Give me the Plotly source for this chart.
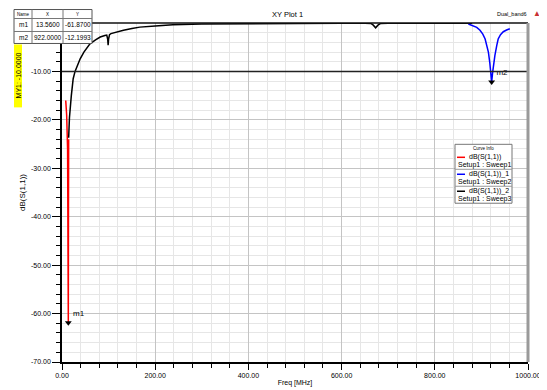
import plotly.graph_objects as go

# ---------------- data ----------------
red_f = [8, 10, 12, 13, 13.56, 13.9, 14.3]
red_db = [-16, -19, -26, -40, -61.87, -38, -24]

black_f = [14.3, 16, 20, 24, 28, 33, 39, 47, 60, 72, 82, 92, 96, 98, 99, 100, 102, 105, 115,
           132, 150, 167, 200, 238, 300, 400, 500, 600, 650, 663, 668, 673, 678, 684, 700, 800, 880]
black_db = [-23.7, -19.5, -15, -11.5, -10, -8.8, -7.4, -6, -4.3, -3.5, -2.9, -2.6, -2.5, -3.3, -4.6, -3.3, -2.4,
            -2.2, -1.9, -1.5, -1.15, -0.85, -0.6, -0.35, -0.2, -0.1, -0.07, -0.05, -0.05, -0.1, -0.45, -1.0,
            -0.45, -0.1, -0.05, -0.05, -0.05]

blue_f = [872, 880, 890, 897, 903, 908, 912, 915, 918, 920, 922, 924, 926, 929, 933, 936, 941, 947, 954, 961]
blue_db = [-0.2, -0.5, -0.9, -1.5, -2.3, -3.3, -4.6, -6, -8.2, -10.5, -12.2, -10.3, -8.2, -6.7, -4.6,
           -3.3, -2.4, -1.8, -1.45, -1.2]

marker_names = ["m1", "m2"]
marker_x = [13.56, 922.0]
marker_y = [-61.87, -12.1993]
marker_x_text = ["13.5600", "922.0000"]
marker_y_text = ["-61.8700", "-12.1993"]

ymarker_db = -10.0
ymarker_label = "MY1: -10.0000"

y_tick_vals = [-70, -60, -50, -40, -30, -20, -10]
x_tick_vals = [0, 200, 400, 600, 800, 1000]

legend_names = ["dB(S(1,1))", "dB(S(1,1))_1", "dB(S(1,1))_2"]
legend_setups = ["Setup1 : Sweep1", "Setup1 : Sweep2", "Setup1 : Sweep3"]
legend_colors = ["#ff0000", "#0000ff", "#000000"]

FONT = "Liberation Sans, Arial, sans-serif"

# the page body has an 8px margin: the figure is drawn 8px smaller and all
# reference-pixel positions are shifted by that offset
OFF = 8
PAGE_W, PAGE_H = 547, 390
W, H = PAGE_W - OFF, PAGE_H - OFF
# plot area in reference-picture pixels
L, R, T, B = 62, 528, 22.5, 362


def px(x):
    return (x - L) / (R - L)


def py(y):
    return (B - y) / (B - T)


def ann(x, y, text, size=7, xanchor="center", angle=0, color="black"):
    return dict(xref="paper", yref="paper", x=px(x), y=py(y), text=text, showarrow=False,
                xanchor=xanchor, yanchor="middle", textangle=angle,
                font=dict(family=FONT, size=size, color=color))


fig = go.Figure()
fig.add_trace(go.Scatter(x=red_f, y=red_db, mode="lines", line=dict(color=legend_colors[0], width=1.5),
                         name=legend_names[0], showlegend=False))
fig.add_trace(go.Scatter(x=black_f, y=black_db, mode="lines", line=dict(color=legend_colors[2], width=1.5),
                         name=legend_names[2], showlegend=False))
fig.add_trace(go.Scatter(x=blue_f, y=blue_db, mode="lines", line=dict(color=legend_colors[1], width=1.5),
                         name=legend_names[1], showlegend=False))
# markers
fig.add_trace(go.Scatter(x=marker_x, y=marker_y, mode="markers+text",
                         marker=dict(symbol="triangle-down", size=6, color="black"),
                         text=marker_names, textposition="top right",
                         textfont=dict(family=FONT, size=8, color="black"),
                         showlegend=False, cliponaxis=False))

shapes = []
annotations = []

# Y marker line
shapes.append(dict(type="line", xref="paper", yref="y", x0=0, x1=1, y0=ymarker_db, y1=ymarker_db,
                   line=dict(color="#222222", width=1.5)))
# top border (black) and right border (grey)
shapes.append(dict(type="line", xref="paper", yref="paper", x0=0, x1=1, y0=1, y1=1,
                   line=dict(color="#111111", width=1.5)))
shapes.append(dict(type="line", xref="paper", yref="paper", x0=1, x1=1, y0=0, y1=1,
                   line=dict(color="#9a9a9a", width=3)))

# yellow marker label box
shapes.append(dict(type="rect", xref="paper", yref="paper", x0=px(14), x1=px(22), y0=py(107), y1=py(44),
                   fillcolor="#ffff00", line=dict(width=0)))
annotations.append(ann(18.5, 75.5, ymarker_label, size=7, angle=-90))

# marker table
tbl_cols = [14, 32, 63, 92]
tbl_rows = [9, 18, 31, 43]
shapes.append(dict(type="rect", xref="paper", yref="paper", x0=px(tbl_cols[0]), x1=px(tbl_cols[-1]),
                   y0=py(tbl_rows[-1]), y1=py(tbl_rows[0]), fillcolor="white",
                   line=dict(color="#555555", width=1)))
for c in tbl_cols[1:-1]:
    shapes.append(dict(type="line", xref="paper", yref="paper", x0=px(c), x1=px(c),
                       y0=py(tbl_rows[-1]), y1=py(tbl_rows[0]), line=dict(color="#777777", width=1)))
for r in tbl_rows[1:-1]:
    shapes.append(dict(type="line", xref="paper", yref="paper", x0=px(tbl_cols[0]), x1=px(tbl_cols[-1]),
                       y0=py(r), y1=py(r), line=dict(color="#777777", width=1)))
headers = ["Name", "X", "Y"]
for i, h in enumerate(headers):
    annotations.append(ann((tbl_cols[i] + tbl_cols[i + 1]) / 2, (tbl_rows[0] + tbl_rows[1]) / 2, h, size=4.5))
for j in range(len(marker_names)):
    cells = [marker_names[j], marker_x_text[j], marker_y_text[j]]
    for i, cval in enumerate(cells):
        annotations.append(ann((tbl_cols[i] + tbl_cols[i + 1]) / 2, (tbl_rows[j + 1] + tbl_rows[j + 2]) / 2,
                               cval, size=6.5))

# legend box (Curve Info)
lg_x0, lg_x1, lg_y0, lg_y1 = 455, 512, 144, 203
shapes.append(dict(type="rect", xref="paper", yref="paper", x0=px(lg_x0), x1=px(lg_x1),
                   y0=py(lg_y1), y1=py(lg_y0), fillcolor="white", line=dict(color="#777777", width=1)))
annotations.append(ann((lg_x0 + lg_x1) / 2, 148.5, "Curve Info", size=4.5))
row_h = 17
for k in range(3):
    ytop = 152 + k * row_h
    if k > 0:
        shapes.append(dict(type="line", xref="paper", yref="paper", x0=px(lg_x0), x1=px(lg_x1),
                           y0=py(ytop), y1=py(ytop), line=dict(color="#999999", width=1)))
    shapes.append(dict(type="line", xref="paper", yref="paper", x0=px(457), x1=px(465),
                       y0=py(ytop + 5), y1=py(ytop + 5), line=dict(color=legend_colors[k], width=1.5)))
    annotations.append(ann(467, ytop + 5, legend_names[k], size=7, xanchor="left"))
    annotations.append(ann(455.5, ytop + 13, legend_setups[k], size=7, xanchor="left"))

# title & top-right text
annotations.append(ann(287, 13.5, "XY Plot 1", size=7.5))
annotations.append(ann(529, 13, "Dual_band6", size=5.5, xanchor="right"))
annotations.append(ann(537, 13, "▲", size=8, color="#c83232"))

fig.update_layout(
    width=W, height=H,
    margin=dict(l=L - OFF, r=PAGE_W - R, t=T - OFF, b=PAGE_H - B, autoexpand=False),
    plot_bgcolor="white", paper_bgcolor="white",
    font=dict(family=FONT, size=7, color="black"),
    shapes=shapes, annotations=annotations,
    showlegend=False,
)
axis_common = dict(
    showgrid=True, gridcolor="#c4c4c4", gridwidth=1, automargin=False,
    tickcolor="black", color="black",
    showline=True, linecolor="black", linewidth=1.5, zeroline=False,
    tickfont=dict(family=FONT, size=7, color="black"),
)
fig.update_xaxes(
    range=[0, 1000], tickvals=x_tick_vals, ticktext=[f"{v:.2f}" for v in x_tick_vals],
    ticks="outside", ticklen=6,
    minor=dict(dtick=40, showgrid=True, gridcolor="#e6e6e6", ticks="outside", ticklen=4, tickcolor="black"),
    title=dict(text="Freq [MHz]", font=dict(family=FONT, size=7, color="black"), standoff=2),
    **axis_common,
)
fig.update_yaxes(
    range=[-70, 0], tickvals=y_tick_vals, ticktext=[f"{v:.2f}" for v in y_tick_vals],
    ticks="outside", ticklen=8,
    minor=dict(dtick=2, showgrid=True, gridcolor="#e6e6e6", ticks="outside", ticklen=4, tickcolor="black"),
    title=dict(text="dB(S(1,1))", font=dict(family=FONT, size=8, color="black"), standoff=4),
    **axis_common,
)

fig.write_html("out.html")
